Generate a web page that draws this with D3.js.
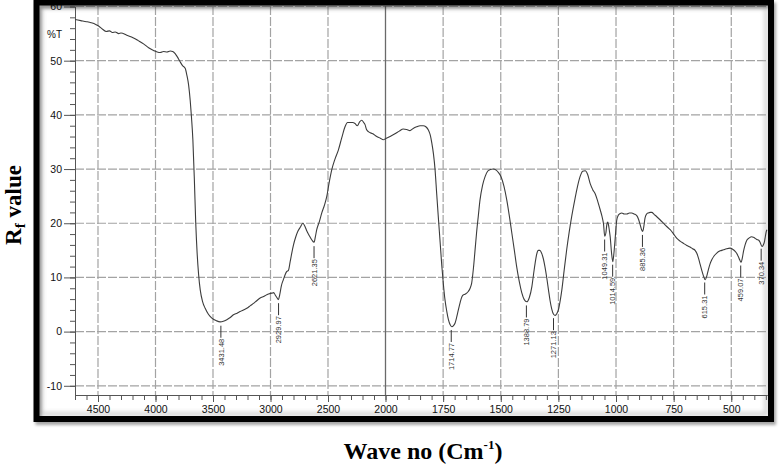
<!DOCTYPE html>
<html>
<head>
    <meta charset="utf-8">
    <title>IR spectrum</title>
    <script src="https://cdn.jsdelivr.net/npm/d3@7/dist/d3.min.js"></script>
    <style>body { margin: 0; background: #fff; }</style>
</head>
<body>
    <svg width="779" height="464" id="mainsvg"></svg>
    <script>
        // spectrum: wave number (cm-1) and %T
        const waveNo = [4700, 4650, 4600, 4560, 4520, 4495, 4460, 4428, 4400, 4375, 4350, 4320, 4300, 4250, 4191, 4150, 4104, 4060, 4017, 3985,
            3959, 3930, 3900, 3872, 3850, 3829, 3810, 3786, 3765, 3742, 3727, 3712, 3698, 3687, 3675, 3662, 3650, 3638, 3625, 3611,
            3590, 3568, 3540, 3510, 3470, 3438, 3410, 3380, 3350, 3322, 3290, 3264, 3235, 3206, 3175, 3148, 3120, 3090, 3060, 3032,
            3010, 2989, 2972, 2960, 2945, 2931, 2920, 2905, 2888, 2873, 2858, 2844, 2829, 2815, 2800, 2780, 2760, 2740, 2719, 2700,
            2685, 2665, 2640, 2621, 2610, 2598, 2575, 2554, 2530, 2511, 2490, 2467, 2440, 2410, 2380, 2352, 2330, 2308, 2285, 2265,
            2245, 2225, 2207, 2190, 2178, 2165, 2149, 2110, 2076, 2045, 2019, 2000, 1980, 1959, 1940, 1923, 1908, 1894, 1880, 1865,
            1850, 1836, 1825, 1814, 1806, 1799, 1792, 1785, 1778, 1771, 1763, 1756, 1749, 1742, 1734, 1727, 1720, 1712, 1705, 1698,
            1691, 1684, 1676, 1669, 1662, 1655, 1648, 1641, 1633, 1626, 1619, 1612, 1605, 1597, 1590, 1579, 1568, 1557, 1546, 1533,
            1520, 1509, 1498, 1486, 1474, 1463, 1452, 1441, 1431, 1420, 1409, 1398, 1387, 1376, 1365, 1358, 1351, 1344, 1337, 1330,
            1322, 1315, 1308, 1300, 1293, 1286, 1279, 1271, 1264, 1257, 1250, 1243, 1235, 1225, 1214, 1203, 1192, 1178, 1167, 1156,
            1145, 1134, 1123, 1112, 1101, 1090, 1079, 1068, 1061, 1054, 1049, 1044, 1040, 1036, 1033, 1029, 1025, 1020, 1014, 1009,
            1004, 997, 990, 982, 975, 964, 953, 942, 932, 921, 910, 902, 895, 889, 884, 879, 874, 867, 860, 852,
            845, 834, 823, 808, 794, 780, 765, 750, 736, 722, 708, 693, 679, 668, 657, 649, 642, 635, 628, 620,
            613, 606, 599, 592, 584, 574, 563, 548, 534, 520, 505, 494, 483, 476, 469, 463, 457, 452, 447, 440,
            432, 422, 411, 404, 396, 389, 382, 375, 367, 361, 356, 352, 348, 345];
        const transmit = [57.6, 57.4, 57.2, 57.0, 56.7, 56.4, 55.8, 55.4, 55.5, 55.2, 55.3, 55.0, 55.1, 54.7, 54.2, 53.7, 53.1, 52.4, 51.9, 51.6,
            51.5, 51.7, 51.6, 51.8, 51.7, 51.3, 50.7, 49.8, 49.1, 48.6, 47.3, 45.5, 42.6, 39.5, 35.4, 28.0, 20.0, 14.5, 10.5, 7.7,
            5.5, 4.3, 3.2, 2.5, 2.0, 1.8, 1.9, 2.2, 2.6, 3.1, 3.4, 3.7, 4.0, 4.3, 4.8, 5.2, 5.7, 6.2, 6.5, 6.8,
            7.0, 7.1, 7.2, 6.8, 6.3, 5.9, 6.8, 8.5, 9.6, 10.5, 11.1, 11.3, 12.9, 14.5, 16.0, 17.5, 18.6, 19.3, 20.0, 19.4,
            18.6, 17.8, 16.9, 16.5, 17.5, 18.8, 20.3, 21.9, 23.4, 24.9, 27.5, 29.9, 31.8, 33.5, 35.8, 37.8, 38.6, 38.6, 38.6, 38.4,
            38.0, 38.7, 39.0, 38.6, 38.2, 37.3, 36.9, 36.5, 36.0, 35.7, 35.4, 35.6, 36.0, 36.5, 37.0, 37.4, 37.3, 37.1, 37.5, 37.8,
            38.0, 38.0, 37.8, 37.2, 36.3, 34.8, 32.8, 29.9, 25.5, 21.2, 16.5, 12.3, 8.8, 5.9, 3.7, 2.2, 1.3, 0.9, 1.1, 1.6,
            2.7, 4.0, 5.4, 6.4, 6.8, 6.9, 7.1, 7.4, 8.0, 9.0, 11.5, 14.8, 18.2, 21.5, 24.3, 27.0, 28.6, 29.6, 29.9, 30.0,
            29.8, 29.3, 28.5, 26.8, 24.3, 21.4, 18.2, 15.0, 12.0, 9.3, 7.2, 5.9, 5.5, 6.3, 8.3, 10.5, 12.6, 14.3, 15.0, 15.0,
            14.4, 13.4, 11.9, 9.8, 7.7, 5.7, 4.2, 3.2, 3.0, 3.3, 4.0, 5.5, 7.7, 11.3, 15.1, 18.4, 21.3, 24.5, 26.8, 28.6,
            29.6, 29.7, 29.0, 27.3, 26.2, 25.4, 24.0, 22.4, 21.3, 19.8, 17.6, 18.2, 19.7, 20.2, 19.8, 18.7, 17.4, 14.8, 12.9, 14.5,
            17.0, 20.5, 21.5, 21.8, 21.9, 21.7, 21.7, 21.9, 21.9, 21.7, 21.4, 20.7, 19.7, 18.8, 18.5, 19.5, 21.0, 21.7, 21.9, 22.0,
            22.0, 21.6, 21.2, 20.6, 20.0, 19.4, 18.8, 18.0, 17.2, 16.7, 16.3, 15.9, 15.6, 15.3, 15.0, 14.4, 13.5, 12.4, 11.3, 10.2,
            9.6, 10.3, 11.5, 12.5, 13.3, 14.0, 14.5, 14.9, 15.1, 15.3, 15.4, 15.2, 14.8, 14.4, 13.8, 13.2, 12.8, 13.6, 14.8, 16.0,
            16.9, 17.3, 17.5, 17.4, 17.2, 17.0, 16.9, 16.5, 15.7, 16.0, 16.6, 17.6, 18.5, 18.8];

        const peakLabels = ['3431.48', '2929.97', '2621.35', '1714.77', '1388.79', '1271.13', '1049.31', '1014.59', '885.36', '615.31', '459.07', '370.34'];
        const xTicks = [4500, 4000, 3500, 3000, 2500, 2000, 1750, 1500, 1250, 1000, 750, 500];
        const yTicks = [60, 50, 40, 30, 20, 10, 0, -10];

        const svg = d3.select('svg');
        const font = "'Liberation Sans', Arial, sans-serif";
        const serif = "'Liberation Serif', 'Times New Roman', serif";

        // split axis: 500 per division above 2000, 250 per division below
        const x = d3.scaleLinear().domain([4700, 2000, 345]).range([75, 385.5, 767]);
        const y = d3.scaleLinear().domain([-11.7, 60]).range([395, 6.5]);

        const defs = svg.append('defs');
        defs.append('filter').attr('id', 'shadow').attr('x', '-5%').attr('y', '-5%').attr('width', '112%').attr('height', '115%')
            .append('feDropShadow').attr('dx', 2).attr('dy', 3).attr('stdDeviation', 1.5)
            .attr('flood-color', '#000').attr('flood-opacity', 0.35);
        defs.append('filter').attr('id', 'soft').append('feGaussianBlur').attr('stdDeviation', 2);

        // soft bevel just inside the frame
        svg.append('rect').attr('x', 41).attr('y', 7).attr('width', 725).attr('height', 407)
            .attr('fill', 'none').attr('stroke', '#d4d4d4').attr('stroke-width', 4).attr('filter', 'url(#soft)');

        // grid
        const grid = svg.append('g').attr('stroke', '#a3a3a3').attr('stroke-width', 1.2).attr('stroke-dasharray', '9,2');
        grid.selectAll('.hgrid').data(yTicks).join('line').attr('class', 'hgrid')
            .attr('x1', 75).attr('x2', 767).attr('y1', d => y(d)).attr('y2', d => y(d));
        grid.selectAll('.vgrid').data(xTicks.filter(d => d !== 2000)).join('line').attr('class', 'vgrid')
            .attr('x1', d => x(d)).attr('x2', d => x(d)).attr('y1', 6).attr('y2', 395);
        svg.append('line').attr('x1', x(2000)).attr('x2', x(2000)).attr('y1', 6).attr('y2', 395)
            .attr('stroke', '#6a6a6a').attr('stroke-width', 1.3);

        // axes
        const xMinor = d3.range(4700, 2000, -100).concat(d3.range(2000, 344, -50));
        const yMinor = d3.range(-10, 60.1, 2);
        const xAxisG = svg.append('g').attr('transform', 'translate(0,395)');
        xAxisG.append('g').call(d3.axisBottom(x).tickValues(xMinor).tickSize(5).tickSizeOuter(0).tickFormat(''));
        xAxisG.append('g').call(d3.axisBottom(x).tickValues(xTicks).tickSize(7).tickSizeOuter(0).tickPadding(4).tickFormat(d => String(d)));
        const yAxisG = svg.append('g').attr('transform', 'translate(75,0)');
        yAxisG.append('g').call(d3.axisLeft(y).tickValues(yMinor).tickSize(5).tickSizeOuter(0).tickFormat(''));
        yAxisG.append('g').call(d3.axisLeft(y).tickValues(yTicks).tickSize(11).tickSizeOuter(0).tickPadding(2).tickFormat(d => String(d)));
        svg.selectAll('.domain, .tick line').attr('stroke', '#555').attr('stroke-width', 1);
        svg.selectAll('.tick text').attr('font-family', font).attr('font-size', 10.5).attr('fill', '#111');

        svg.append('text').attr('x', 62).attr('y', 38).attr('text-anchor', 'end')
            .attr('font-family', font).attr('font-size', 10).attr('fill', '#111').text('%T');

        // spectrum
        const pts = waveNo.map((w, i) => [w, transmit[i]]);
        const line = d3.line().x(d => x(d[0])).y(d => y(d[1])).curve(d3.curveMonotoneX);
        svg.append('path').datum(pts).attr('d', line)
            .attr('fill', 'none').attr('stroke', '#3c3c3c').attr('stroke-width', 1.1);

        // peak markers
        const valueAt = w => {
            for (let i = 1; i < waveNo.length; i++) {
                if (waveNo[i] <= w) {
                    const t = (waveNo[i - 1] - w) / (waveNo[i - 1] - waveNo[i]);
                    return transmit[i - 1] + t * (transmit[i] - transmit[i - 1]);
                }
            }
            return transmit[transmit.length - 1];
        };
        const peaks = svg.selectAll('.peak').data(peakLabels).join('g').attr('class', 'peak')
            .attr('transform', d => `translate(${x(+d)},${y(valueAt(+d))})`);
        peaks.append('line').attr('x1', 0).attr('x2', 0).attr('y1', 4).attr('y2', 16)
            .attr('stroke', '#333').attr('stroke-width', 1);
        peaks.append('text').attr('transform', 'translate(0,17) rotate(-90)').attr('dy', '0.35em')
            .attr('text-anchor', 'end').attr('font-family', font).attr('font-size', 7.5).attr('fill', '#333')
            .text(d => d);

        // frame
        svg.append('rect').attr('x', 36.5).attr('y', 2.5).attr('width', 734.5).attr('height', 416.5)
            .attr('fill', 'none').attr('stroke', '#000').attr('stroke-width', 6).attr('filter', 'url(#shadow)');

        // axis titles
        const yTitle = svg.append('text').attr('transform', 'translate(21,205) rotate(-90)').attr('text-anchor', 'middle')
            .attr('font-family', serif).attr('font-weight', 'bold').attr('font-size', 23).attr('fill', '#000');
        yTitle.append('tspan').text('R');
        yTitle.append('tspan').attr('font-size', 15).attr('dy', 4).text('f');
        yTitle.append('tspan').attr('dy', -4).text(' value');

        const xTitle = svg.append('text').attr('x', 423).attr('y', 459).attr('text-anchor', 'middle')
            .attr('font-family', serif).attr('font-weight', 'bold').attr('font-size', 24).attr('fill', '#000');
        xTitle.append('tspan').text('Wave no (Cm');
        xTitle.append('tspan').attr('font-size', 13).attr('dy', -10).text('-1');
        xTitle.append('tspan').attr('dy', 10).text(')');
    </script>
</body>
</html>
